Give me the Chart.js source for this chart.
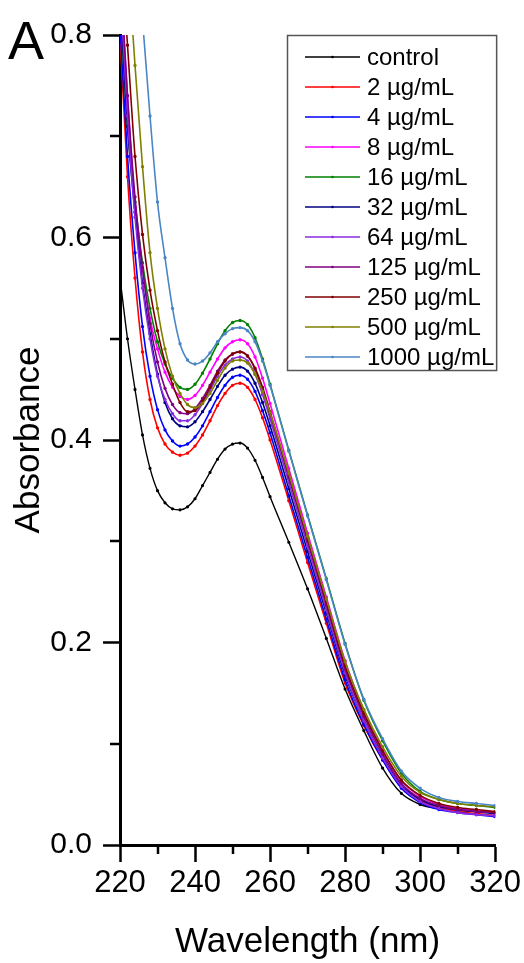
<!DOCTYPE html>
<html>
<head>
<meta charset="utf-8">
<script src="https://cdn.jsdelivr.net/npm/chart.js@4"></script>
<style>
  html, body { margin: 0; padding: 0; background: #fff; }
  #wrap { width: 524px; height: 963px; }
</style>
</head>
<body>
<div id="wrap"><canvas id="uv-chart" width="524" height="963"></canvas></div>
<script>
// wavelength (nm) of each reading
const wavelengths = [220, 222, 224, 226, 228, 230, 232, 234, 236, 238, 240, 242, 244, 246, 248, 250,
  252, 254, 256, 258, 260, 265, 270, 275, 280, 285, 290, 295, 300, 305, 310, 315, 320];

// absorbance
const control = [0.560, 0.500, 0.450, 0.405, 0.372, 0.350, 0.338, 0.332, 0.331, 0.334, 0.342, 0.355, 0.368, 0.381, 0.391, 0.396,
  0.397, 0.392, 0.380, 0.363, 0.344, 0.299, 0.253, 0.204, 0.154, 0.113, 0.076, 0.051, 0.040, 0.036, 0.034, 0.033, 0.032];
const c2 = [0.800, 0.660, 0.560, 0.487, 0.440, 0.412, 0.396, 0.388, 0.385, 0.387, 0.394, 0.405, 0.419, 0.434, 0.446, 0.454,
  0.456, 0.452, 0.440, 0.422, 0.400, 0.340, 0.279, 0.219, 0.160, 0.118, 0.084, 0.057, 0.044, 0.037, 0.033, 0.031, 0.029];
const c4 = [0.810, 0.680, 0.585, 0.512, 0.463, 0.430, 0.410, 0.399, 0.394, 0.396, 0.403, 0.414, 0.428, 0.442, 0.454, 0.462,
  0.464, 0.460, 0.448, 0.429, 0.407, 0.345, 0.284, 0.223, 0.163, 0.119, 0.084, 0.056, 0.042, 0.035, 0.032, 0.030, 0.028];
const c8 = [0.860, 0.740, 0.630, 0.570, 0.520, 0.490, 0.467, 0.452, 0.443, 0.440, 0.444, 0.454, 0.467, 0.480, 0.491, 0.497,
  0.499, 0.495, 0.482, 0.461, 0.436, 0.372, 0.308, 0.245, 0.182, 0.133, 0.094, 0.064, 0.048, 0.040, 0.036, 0.034, 0.032];
const c16 = [0.830, 0.710, 0.635, 0.575, 0.530, 0.497, 0.475, 0.461, 0.452, 0.450, 0.455, 0.466, 0.480, 0.495, 0.508, 0.516,
  0.518, 0.514, 0.501, 0.480, 0.455, 0.390, 0.326, 0.263, 0.199, 0.143, 0.103, 0.071, 0.053, 0.045, 0.041, 0.039, 0.037];
const c32 = [0.840, 0.710, 0.625, 0.555, 0.505, 0.465, 0.437, 0.421, 0.414, 0.413, 0.418, 0.428, 0.440, 0.453, 0.464, 0.470,
  0.472, 0.468, 0.456, 0.437, 0.414, 0.352, 0.290, 0.229, 0.168, 0.123, 0.087, 0.059, 0.045, 0.038, 0.035, 0.033, 0.031];
const c64 = [0.850, 0.720, 0.620, 0.550, 0.500, 0.463, 0.440, 0.426, 0.419, 0.419, 0.425, 0.436, 0.449, 0.463, 0.474, 0.480,
  0.482, 0.478, 0.465, 0.445, 0.421, 0.358, 0.295, 0.232, 0.170, 0.123, 0.086, 0.058, 0.043, 0.036, 0.032, 0.030, 0.029];
const c125 = [0.870, 0.740, 0.640, 0.570, 0.515, 0.477, 0.451, 0.435, 0.427, 0.426, 0.431, 0.441, 0.454, 0.468, 0.479, 0.485,
  0.487, 0.483, 0.470, 0.450, 0.426, 0.363, 0.300, 0.237, 0.174, 0.127, 0.090, 0.061, 0.046, 0.039, 0.035, 0.033, 0.032];
const c250 = [0.900, 0.790, 0.680, 0.603, 0.548, 0.508, 0.477, 0.455, 0.437, 0.428, 0.429, 0.438, 0.452, 0.466, 0.478, 0.485,
  0.487, 0.483, 0.471, 0.452, 0.428, 0.366, 0.303, 0.240, 0.177, 0.130, 0.093, 0.064, 0.049, 0.041, 0.037, 0.035, 0.033];
const c500 = [1.000, 0.880, 0.770, 0.670, 0.585, 0.530, 0.490, 0.463, 0.446, 0.435, 0.432, 0.436, 0.446, 0.459, 0.471, 0.478,
  0.479, 0.476, 0.465, 0.448, 0.427, 0.367, 0.305, 0.243, 0.181, 0.134, 0.097, 0.068, 0.052, 0.045, 0.041, 0.039, 0.038];
const c1000 = [1.120, 1.000, 0.900, 0.815, 0.720, 0.635, 0.580, 0.530, 0.495, 0.479, 0.475, 0.478, 0.486, 0.497, 0.505, 0.510,
  0.511, 0.508, 0.497, 0.478, 0.454, 0.389, 0.325, 0.262, 0.198, 0.144, 0.105, 0.073, 0.056, 0.047, 0.043, 0.041, 0.039];

const seriesLabels = ['control', '2 µg/mL', '4 µg/mL', '8 µg/mL', '16 µg/mL', '32 µg/mL',
  '64 µg/mL', '125 µg/mL', '250 µg/mL', '500 µg/mL', '1000 µg/mL'];
const seriesValues = [control, c2, c4, c8, c16, c32, c64, c125, c250, c500, c1000];
const seriesColors = ['#000000', '#ff0000', '#0000ff', '#ff00ff', '#008000', '#000080',
  '#8b2be2', '#800080', '#800000', '#808000', '#4a86c5'];

const xTicks = [220, 240, 260, 280, 300, 320];
const xMinor = [230, 250, 270, 290, 310];
const yTicks = [0.0, 0.2, 0.4, 0.6, 0.8];
const yMinor = [0.1, 0.3, 0.5, 0.7];

const FONT = '"Liberation Sans", Arial, sans-serif';

const datasets = seriesValues.map((vals, i) => ({
  label: seriesLabels[i],
  data: wavelengths.map((w, j) => ({ x: w, y: vals[j] })),
  borderColor: seriesColors[i],
  backgroundColor: seriesColors[i],
  borderWidth: i === 0 ? 1.4 : 1.6,
  pointRadius: 0.9,
  pointHoverRadius: 0,
  cubicInterpolationMode: 'monotone',
  order: seriesValues.length - i,
}));

// minor ticks (Origin style: shorter, between majors)
const minorTicks = {
  id: 'minorTicks',
  afterDraw(chart) {
    const { ctx, chartArea, scales: { x, y } } = chart;
    ctx.save();
    ctx.strokeStyle = '#000';
    ctx.lineWidth = 2.5;
    ctx.beginPath();
    xMinor.forEach((v) => {
      const px = Math.round(x.getPixelForValue(v));
      ctx.moveTo(px, chartArea.bottom);
      ctx.lineTo(px, chartArea.bottom + 9);
    });
    yMinor.forEach((v) => {
      const py = Math.round(y.getPixelForValue(v));
      ctx.moveTo(chartArea.left, py);
      ctx.lineTo(chartArea.left - 10, py);
    });
    ctx.stroke();
    ctx.restore();
  },
};

// boxed legend inside the plot + panel letter
const boxLegend = {
  id: 'boxLegend',
  afterDraw(chart) {
    const { ctx, chartArea } = chart;
    const left = 287;
    const top = chartArea.top;
    const right = chartArea.right + 1;
    const rowH = 30;
    const firstRow = top + 22;
    const n = chart.data.datasets.length;
    const boxH = firstRow + (n - 1) * rowH + 13 - top;
    ctx.save();
    ctx.fillStyle = '#fff';
    ctx.fillRect(left, top, right - left, boxH);
    ctx.strokeStyle = '#555';
    ctx.lineWidth = 1.5;
    ctx.strokeRect(left + 0.5, top + 0.5, right - left, boxH);
    ctx.font = '24px ' + FONT;
    ctx.textBaseline = 'middle';
    ctx.textAlign = 'left';
    chart.data.datasets.forEach((ds, i) => {
      const yy = firstRow + i * rowH;
      ctx.strokeStyle = ds.borderColor;
      ctx.lineWidth = 1.5;
      ctx.beginPath();
      ctx.moveTo(305, yy);
      ctx.lineTo(360, yy);
      ctx.stroke();
      ctx.fillStyle = ds.borderColor;
      ctx.beginPath();
      ctx.arc(332.5, yy, 1.3, 0, Math.PI * 2);
      ctx.fill();
      ctx.fillStyle = '#000';
      ctx.fillText(ds.label, 367, yy + 1);
    });
    ctx.font = '54px ' + FONT;
    ctx.textBaseline = 'alphabetic';
    ctx.fillText('A', 8, 59);
    ctx.restore();
  },
};

const axisCommon = {
  border: { display: true, color: '#000', width: 3 },
  grid: { drawOnChartArea: false, drawTicks: true, tickLength: 17, tickWidth: 2.5, tickColor: '#000' },
};

new Chart(document.getElementById('uv-chart').getContext('2d'), {
  type: 'line',
  data: { datasets },
  options: {
    responsive: false,
    animation: false,
    layout: { padding: { top: 35, right: 28, bottom: 0, left: 0 } },
    plugins: { legend: { display: false }, tooltip: { enabled: false } },
    scales: {
      x: {
        ...axisCommon,
        type: 'linear',
        min: 220,
        max: 320,
        afterBuildTicks: (scale) => { scale.ticks = xTicks.map((v) => ({ value: v })); },
        afterFit: (scale) => { scale.height = 118; },
        ticks: { color: '#000', font: { family: FONT, size: 31 }, padding: 3, maxRotation: 0 },
        title: { display: true, text: 'Wavelength (nm)', color: '#000', font: { family: FONT, size: 35 }, padding: 0 },
      },
      y: {
        ...axisCommon,
        min: 0,
        max: 0.8,
        afterBuildTicks: (scale) => { scale.ticks = yTicks.map((v) => ({ value: v })); },
        afterFit: (scale) => { scale.width = 120; },
        ticks: { color: '#000', font: { family: FONT, size: 30 }, padding: 11, callback: (v) => v.toFixed(1) },
        title: { display: true, text: 'Absorbance', color: '#000', font: { family: FONT, size: 35 }, padding: { top: 8, bottom: 0 } },
      },
    },
  },
  plugins: [minorTicks, boxLegend],
});
</script>
</body>
</html>
